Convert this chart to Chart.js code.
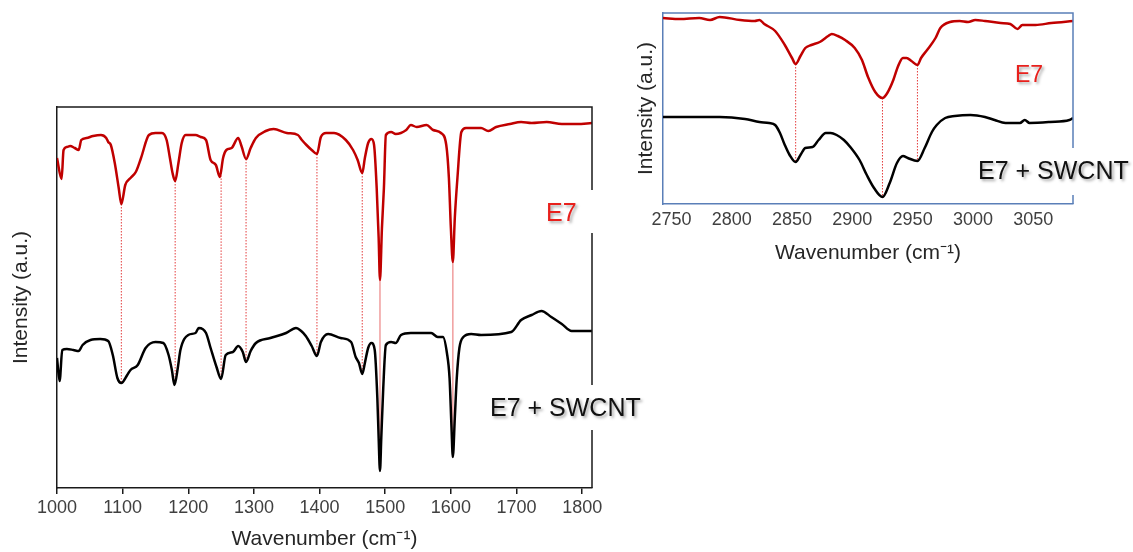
<!DOCTYPE html>
<html>
<head>
<meta charset="utf-8">
<script src="https://cdn.jsdelivr.net/npm/chart.js@4/dist/chart.umd.min.js"></script>
<style>
html, body { margin: 0; padding: 0; background: #fff; }
body { width: 1133px; height: 552px; position: relative; overflow: hidden; }
#mainChart { position: absolute; left: 0; top: 90px; }
#insetChart { position: absolute; left: 630px; top: 0; }
</style>
</head>
<body>
<canvas id="mainChart" width="660" height="462"></canvas>
<canvas id="insetChart" width="503" height="275"></canvas>
<script>
// main panel, 1000-1815 cm-1 (intensity in arbitrary units)
var e7Wave = [1000, 1007, 1010, 1015, 1020, 1027, 1033, 1037, 1045, 1055, 1067, 1075, 1078, 1082, 1088, 1094, 1098, 1104, 1112, 1120,
    1128, 1140, 1150, 1160, 1167, 1172, 1176, 1180, 1185, 1190, 1196, 1211, 1219, 1227, 1234, 1242, 1248, 1253, 1258, 1266,
    1276, 1281, 1288, 1295, 1303, 1318, 1330, 1350, 1367, 1373, 1380, 1388, 1396, 1402, 1410, 1422, 1440, 1451, 1458, 1465,
    1469, 1474, 1479, 1483, 1487, 1490, 1492, 1495, 1498, 1501, 1509, 1516, 1532, 1539, 1548, 1563, 1573, 1585, 1593, 1597,
    1600, 1603, 1606, 1610, 1616, 1623, 1646, 1657, 1669, 1690, 1707, 1723, 1746, 1769, 1792, 1815];
var e7Int = [330, 309, 338, 341, 342, 340, 338, 348, 350, 352, 353, 350, 346, 343, 325, 300, 284, 303, 310, 316,
    330, 353, 355, 355, 348, 330, 315, 307, 325, 345, 353, 353, 351, 348, 328, 323, 311, 330, 338, 340,
    350, 342, 329, 340, 350, 357, 359, 355, 353, 348, 343, 338, 334, 351, 355, 355, 348, 338, 328, 315,
    330, 345, 349, 343, 300, 250, 208, 260, 300, 353, 356, 354, 358, 363, 361, 363, 358, 355, 343, 310,
    260, 226, 270, 310, 356, 360, 360, 357, 361, 364, 366, 365, 366, 364, 364, 365];

var cntWave = [1000, 1004, 1008, 1015, 1025, 1033, 1039, 1051, 1066, 1078, 1085, 1092, 1098, 1107, 1112, 1123, 1135, 1150, 1162, 1170,
    1175, 1179, 1184, 1188, 1200, 1211, 1216, 1227, 1234, 1243, 1250, 1257, 1268, 1276, 1283, 1288, 1295, 1303, 1325, 1349,
    1364, 1372, 1379, 1388, 1396, 1402, 1413, 1432, 1448, 1455, 1460, 1465, 1469, 1474, 1479, 1484, 1488, 1490, 1492, 1494,
    1497, 1501, 1509, 1516, 1524, 1539, 1570, 1580, 1588, 1594, 1598, 1601, 1603, 1606, 1609, 1613, 1619, 1631, 1646, 1692,
    1707, 1723, 1738, 1753, 1769, 1784, 1815];
var cntInt = [130, 107, 138, 139, 138, 137, 143, 148, 149, 147, 133, 110, 105, 113, 118, 123, 140, 146, 145, 133,
    118, 103, 120, 138, 153, 155, 160, 155, 140, 121, 109, 133, 136, 142, 136, 126, 137, 145, 150, 155,
    160, 157, 152, 142, 132, 146, 154, 150, 146, 131, 125, 114, 125, 140, 145, 138, 90, 50, 17, 50,
    100, 143, 146, 145, 153, 155, 155, 151, 151, 135, 110, 60, 31, 70, 110, 140, 151, 154, 153, 156,
    168, 173, 177, 171, 164, 157, 157];

var mainPeaks = [1098, 1180, 1250, 1288, 1396, 1465];
var mainStrongPeaks = [1492, 1603];

// inset, C-H stretch region
var e7WaveCH = [2743, 2757, 2773, 2782, 2790, 2807, 2819, 2823, 2827, 2836, 2844, 2850, 2853, 2857, 2861, 2866, 2873, 2880, 2883, 2888,
    2894, 2902, 2908, 2913, 2919, 2925, 2929, 2934, 2938, 2942, 2945, 2949, 2954, 2957, 2962, 2969, 2973, 2981, 2989, 2996,
    3002, 3010, 3023, 3031, 3037, 3041, 3052, 3065, 3083];
var e7IntCH = [186, 185, 186, 184, 187, 184, 183, 184, 180, 173, 159, 146, 140, 148, 156, 159, 162, 168, 170, 168,
    164, 156, 144, 127, 112, 106, 111, 124, 138, 146, 146, 143, 139, 146, 154, 166, 176, 182, 183, 182,
    184, 183, 181, 180, 175, 179, 179, 181, 183];

var cntWaveCH = [2743, 2765, 2790, 2811, 2823, 2831, 2836, 2840, 2844, 2848, 2853, 2857, 2861, 2867, 2872, 2878, 2882, 2887, 2893, 2899,
    2906, 2912, 2918, 2925, 2931, 2937, 2942, 2946, 2954, 2960, 2966, 2970, 2977, 2985, 2998, 3010, 3018, 3027, 3039, 3043,
    3047, 3064, 3080, 3083];
var cntIntCH = [87, 87, 87, 85, 82, 81, 79, 71, 59, 49, 42, 49, 56, 57, 64, 71, 71, 69, 64, 56,
    44, 29, 16, 7, 21, 41, 48, 46, 43, 56, 72, 79, 86, 88, 89, 87, 84, 81, 81, 84,
    81, 82, 84, 86];

var insetPeaks = [2853, 2925, 2954];

var FONT = "'Liberation Sans', Arial, sans-serif";

function toPoints(xs, ys) {
    return xs.map(function(x, i) { return { x: x, y: ys[i] }; });
}

function valueAt(xs, ys, x) {
    for (var i = 0; i < xs.length - 1; i++) {
        if (x >= xs[i] && x <= xs[i + 1]) {
            var t = (x - xs[i]) / (xs[i + 1] - xs[i]);
            return ys[i] + t * (ys[i + 1] - ys[i]);
        }
    }
    return ys[ys.length - 1];
}

// dotted guide lines between the two spectra, box and text labels
var decorPlugin = {
    id: 'decor',
    beforeDatasetsDraw: function(chart, args, opts) {
        var ctx = chart.ctx, xs = chart.scales.x, ys = chart.scales.y;
        ctx.save();
        ctx.strokeStyle = 'rgba(225, 40, 40, 0.9)';
        ctx.lineWidth = 1;
        ctx.setLineDash([1.5, 1.5]);
        opts.peaks.forEach(function(p) {
            var px = xs.getPixelForValue(p);
            ctx.beginPath();
            ctx.moveTo(px, ys.getPixelForValue(valueAt(opts.topX, opts.topY, p)));
            ctx.lineTo(px, ys.getPixelForValue(valueAt(opts.botX, opts.botY, p)));
            ctx.stroke();
        });
        ctx.setLineDash([]);
        ctx.strokeStyle = 'rgba(225, 60, 60, 0.5)';
        ctx.lineWidth = 1.5;
        (opts.strong || []).forEach(function(p) {
            var px = xs.getPixelForValue(p);
            ctx.beginPath();
            ctx.moveTo(px, ys.getPixelForValue(valueAt(opts.topX, opts.topY, p)));
            ctx.lineTo(px, ys.getPixelForValue(valueAt(opts.botX, opts.botY, p)));
            ctx.stroke();
        });
        ctx.restore();
    },
    afterDraw: function(chart, args, opts) {
        var ctx = chart.ctx, a = chart.chartArea;
        ctx.save();
        ctx.strokeStyle = opts.boxColor;
        ctx.lineWidth = 1.5;
        ctx.beginPath();
        ctx.moveTo(a.left, a.top);
        ctx.lineTo(a.right, a.top);
        ctx.lineTo(a.right, a.bottom);
        ctx.stroke();
        opts.labels.forEach(function(l) {
            if (l.box) {
                ctx.fillStyle = '#fff';
                ctx.fillRect(l.box[0], l.box[1], l.box[2], l.box[3]);
            }
            ctx.font = l.size + 'px ' + FONT;
            ctx.textBaseline = 'middle';
            ctx.textAlign = 'left';
            ctx.shadowColor = 'rgba(0, 0, 0, 0.35)';
            ctx.shadowBlur = 3;
            ctx.shadowOffsetX = 2;
            ctx.shadowOffsetY = 2;
            ctx.fillStyle = l.color;
            ctx.fillText(l.text, l.x, l.y);
            ctx.shadowColor = 'transparent';
        });
        ctx.restore();
    }
};

function makeChart(id, cfg) {
    return new Chart(document.getElementById(id), {
        type: 'line',
        data: {
            datasets: [
                {
                    label: 'E7',
                    data: toPoints(cfg.topX, cfg.topY),
                    borderColor: '#c00000',
                    borderWidth: 2.5,
                    pointRadius: 0,
                    cubicInterpolationMode: 'monotone',
                    fill: false
                },
                {
                    label: 'E7 + SWCNT',
                    data: toPoints(cfg.botX, cfg.botY),
                    borderColor: '#000',
                    borderWidth: 2.5,
                    pointRadius: 0,
                    cubicInterpolationMode: 'monotone',
                    fill: false
                }
            ]
        },
        options: {
            responsive: false,
            animation: false,
            devicePixelRatio: 1,
            layout: { padding: cfg.padding },
            plugins: {
                legend: { display: false },
                tooltip: { enabled: false },
                decor: {
                    peaks: cfg.peaks,
                    strong: cfg.strong,
                    topX: cfg.topX, topY: cfg.topY,
                    botX: cfg.botX, botY: cfg.botY,
                    boxColor: cfg.boxColor,
                    labels: cfg.labels
                }
            },
            scales: {
                x: {
                    type: 'linear',
                    min: cfg.xMin,
                    max: cfg.xMax,
                    afterFit: function(s) { s.height = cfg.xHeight; },
                    border: { display: true, color: cfg.boxColor, width: 1.5 },
                    grid: {
                        display: cfg.tickMarks,
                        drawOnChartArea: false,
                        drawTicks: cfg.tickMarks,
                        tickLength: 6,
                        color: cfg.boxColor,
                        lineWidth: 1.5
                    },
                    ticks: {
                        stepSize: cfg.step,
                        includeBounds: false,
                        maxRotation: 0,
                        autoSkip: false,
                        padding: cfg.tickPad,
                        color: '#404040',
                        font: { family: FONT, size: 18 },
                        callback: function(value) { return String(value); }
                    },
                    title: {
                        display: true,
                        text: 'Wavenumber (cm⁻¹)',
                        color: '#262626',
                        font: { family: FONT, size: 21 },
                        padding: { top: 0, bottom: cfg.xTitlePad }
                    }
                },
                y: {
                    min: 0,
                    max: cfg.yMax,
                    afterFit: function(s) { s.width = cfg.yWidth; },
                    border: { display: true, color: cfg.boxColor, width: 1.5 },
                    grid: { display: false, drawTicks: false },
                    ticks: { display: false },
                    title: {
                        display: true,
                        text: 'Intensity (a.u.)',
                        color: '#262626',
                        font: { family: FONT, size: 21 },
                        padding: { top: cfg.yTitlePad, bottom: 0 }
                    }
                }
            }
        },
        plugins: [decorPlugin]
    });
}

makeChart('mainChart', {
    topX: e7Wave, topY: e7Int,
    botX: cntWave, botY: cntInt,
    peaks: mainPeaks, strong: mainStrongPeaks,
    xMin: 1000, xMax: 1815, step: 100, yMax: 381,
    padding: { top: 17, right: 68, left: 0, bottom: 0 },
    xHeight: 64, yWidth: 57,
    tickMarks: true, tickPad: 3,
    xTitlePad: 0, yTitlePad: 9,
    boxColor: '#1a1a1a',
    labels: [
        { text: 'E7', x: 546, y: 124, size: 25, color: '#e8201c', box: [538, 100, 62, 43] },
        { text: 'E7 + SWCNT', x: 490, y: 319, size: 25, color: '#111', box: [484, 295, 166, 45] }
    ]
});

makeChart('insetChart', {
    topX: e7WaveCH, topY: e7IntCH,
    botX: cntWaveCH, botY: cntIntCH,
    peaks: insetPeaks, strong: [],
    xMin: 2743, xMax: 3083, step: 50, yMax: 191,
    padding: { top: 13, right: 60, left: 0, bottom: 0 },
    xHeight: 71, yWidth: 33,
    tickMarks: false, tickPad: 5,
    xTitlePad: 9, yTitlePad: 4,
    boxColor: '#5a7fb8',
    labels: [
        { text: 'E7', x: 385, y: 76, size: 23, color: '#e8201c' },
        { text: 'E7 + SWCNT', x: 348, y: 172, size: 25, color: '#111', box: [342, 148, 161, 47] }
    ]
});
</script>
</body>
</html>
